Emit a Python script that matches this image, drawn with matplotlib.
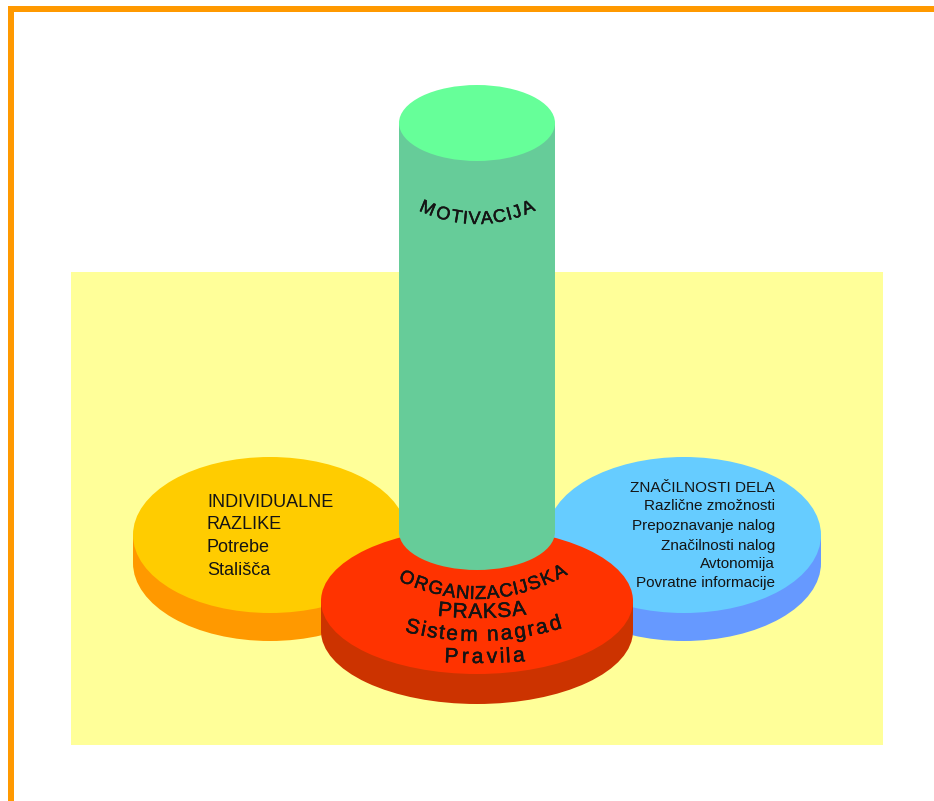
import numpy as np
import matplotlib
matplotlib.use("Agg")
from matplotlib import pyplot as plt
from matplotlib import patheffects
from matplotlib.patches import Ellipse, Rectangle
from matplotlib.font_manager import FontProperties
from matplotlib.textpath import text_to_path

FONT = "Liberation Sans"
INK = "#141414"
HEAVY = [patheffects.withStroke(linewidth=0.35, foreground=INK)]

# discs: (cx, cy, half width, half height, thickness)
disc_names = ["individualne", "znacilnosti", "praksa"]
disc_geom = [(270, 535, 137, 78, 28), (684, 535, 137, 78, 28), (477, 601, 156, 73, 30)]
disc_top = ["#FFCC00", "#66CCFF", "#FF3300"]
disc_side = ["#FF9900", "#6699FF", "#CC3300"]

# cylinder: cx, top centre y, bottom centre y, half width, half height
cyl = (477, 123, 532, 78, 38)
cyl_body = "#66CC99"
cyl_top = "#66FF99"

left_lines = ["INDIVIDUALNE", "RAZLIKE", "Potrebe", "Stališča"]
left_base = [507, 529, 552, 575]

right_lines = ["ZNAČILNOSTI DELA", "Različne zmožnosti", "Prepoznavanje nalog",
               "Značilnosti nalog", "Avtonomija", "Povratne informacije"]
right_base = [492, 510, 530, 550, 568, 587]

# curved labels: text, x from, x to, baseline at middle, curvature, size
curved = [
    ("MOTIVACIJA", 417, 537, 224, 0.004, 13),
    ("ORGANIZACIJSKA", 397, 569, 599, 0.003, 13.5),
    ("PRAKSA", 437, 527, 618, 0.0015, 15),
    ("Sistem nagrad", 403, 564, 641, 0.0018, 15),
    ("Pravila", 442, 527, 663, 0.0008, 15),
]


def disc(ax, cx, cy, a, b, h, top, side):
    ax.add_patch(Ellipse((cx, cy + h), 2 * a, 2 * b, color=side, lw=0))
    ax.add_patch(Rectangle((cx - a, cy), 2 * a, h, color=side, lw=0))
    ax.add_patch(Ellipse((cx, cy), 2 * a, 2 * b, color=top, lw=0))


def curved_text(ax, s, x0, x1, ymid, k, size, cx=477):
    fp = FontProperties(family=FONT, size=size)
    w = [0.0] + [text_to_path.get_text_width_height_descent(s[:i], fp, ismath=False)[0]
                 for i in range(1, len(s) + 1)]
    for i, ch in enumerate(s):
        if ch == " ":
            continue
        x = x0 + (w[i] + w[i + 1]) / 2 / w[-1] * (x1 - x0)
        y = ymid - k * (x - cx) ** 2
        ang = np.degrees(np.arctan(2 * k * (x - cx)))
        ax.text(x, y, ch, rotation=ang, rotation_mode="anchor", ha="center",
                va="baseline", fontsize=size, family=FONT, color=INK,
                path_effects=HEAVY)


fig = plt.figure(figsize=(9.34, 8.01), dpi=100)
ax = fig.add_axes([0, 0, 1, 1])
ax.set_xlim(0, 934)
ax.set_ylim(801, 0)
ax.axis("off")

# frame and background
ax.add_patch(Rectangle((8, 6), 926, 6, color="#FF9900", lw=0))
ax.add_patch(Rectangle((8, 6), 6, 795, color="#FF9900", lw=0))
ax.add_patch(Rectangle((71, 272), 812, 473, color="#FFFF99", lw=0))

for (cx, cy, a, b, h), t, s in zip(disc_geom, disc_top, disc_side):
    disc(ax, cx, cy, a, b, h, t, s)

cx, ytop, ybot, a, b = cyl
ax.add_patch(Ellipse((cx, ybot), 2 * a, 2 * b, color=cyl_body, lw=0))
ax.add_patch(Rectangle((cx - a, ytop), 2 * a, ybot - ytop, color=cyl_body, lw=0))
ax.add_patch(Ellipse((cx, ytop), 2 * a, 2 * b, color=cyl_top, lw=0))

for txt, yb in zip(left_lines, left_base):
    ax.text(207, yb, txt, ha="left", va="baseline", fontsize=13, family=FONT, color=INK)

for txt, yb in zip(right_lines, right_base):
    ax.text(775, yb, txt, ha="right", va="baseline", fontsize=11, family=FONT, color=INK)

for s, x0, x1, ym, k, size in curved:
    curved_text(ax, s, x0, x1, ym, k, size)

fig.savefig("out.png", dpi=100)
